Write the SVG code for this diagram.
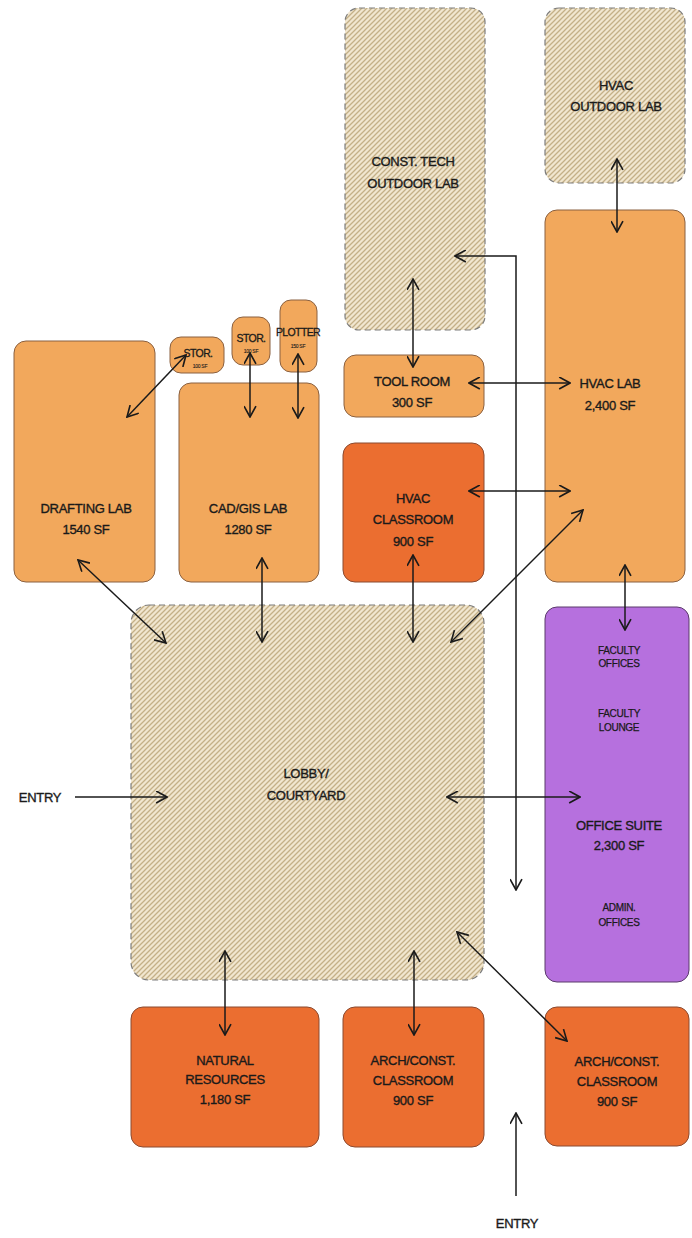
<svg xmlns="http://www.w3.org/2000/svg" width="692" height="1238" viewBox="0 0 692 1238">
<defs>
<pattern id="hatch" patternUnits="userSpaceOnUse" width="5" height="5">
<rect width="5" height="5" fill="#F1E6CF"/>
<path d="M-1,1 L1,-1 M0,5 L5,0 M4,6 L6,4" stroke="#C4B087" stroke-width="1.3"/>
</pattern>
<marker id="ah" viewBox="0 0 12 12" refX="11" refY="6" markerWidth="13" markerHeight="13" markerUnits="userSpaceOnUse" orient="auto-start-reverse">
<path d="M1,0.5 L11,6 L1,11.5" fill="none" stroke="#1a1a1a" stroke-width="1.5"/>
</marker>
<style>
.lt{fill:#F2A85C;stroke:#8a6040;stroke-width:1}
.dk{fill:#EB6E30;stroke:#8a4a30;stroke-width:1}
.pu{fill:#B670DE;stroke:#5a3a6a;stroke-width:1}
.ht{fill:url(#hatch);stroke:#7c7c7c;stroke-width:1.2;stroke-dasharray:6 4}
text{font-family:"Liberation Sans",Arial,sans-serif;font-size:13px;fill:#1a1a1a;stroke:#1a1a1a;stroke-width:0.35;text-anchor:middle;letter-spacing:-0.3px}
.s{font-size:10px;stroke-width:0.25}
.st{font-size:10.5px;stroke-width:0.3;letter-spacing:-0.6px}
.xs{font-size:5px;stroke-width:0.1}
.c{fill:none;stroke:#1a1a1a;stroke-width:1.5}
</style>
</defs>
<rect width="692" height="1238" fill="#ffffff"/>

<g id="const-tech-outdoor"><rect class="ht" x="345" y="8" width="140" height="322" rx="14"/><text x="413" y="166">CONST. TECH</text><text x="413" y="188">OUTDOOR LAB</text></g>
<g id="hvac-outdoor"><rect class="ht" x="545" y="8" width="140" height="175" rx="14"/><text x="616" y="90">HVAC</text><text x="616" y="111">OUTDOOR LAB</text></g>
<g id="hvac-lab"><rect class="lt" x="545" y="210" width="140" height="372" rx="12"/><text x="610" y="388">HVAC LAB</text><text x="610" y="410">2,400 SF</text></g>
<g id="drafting-lab"><rect class="lt" x="14" y="341" width="141" height="241" rx="12"/><text x="86" y="513">DRAFTING LAB</text><text x="86" y="534">1540 SF</text></g>
<g id="stor1"><rect class="lt" x="170" y="337" width="54" height="36" rx="11"/><text x="198" y="357" class="st">STOR.</text><text x="200" y="368" class="xs">100 SF</text></g>
<g id="stor2"><rect class="lt" x="232" y="317" width="38" height="48" rx="11"/><text x="251" y="342" class="st">STOR.</text><text x="251" y="353" class="xs">100 SF</text></g>
<g id="plotter"><rect class="lt" x="280" y="300" width="37" height="72" rx="11"/><text x="298" y="336" class="st">PLOTTER</text><text x="298" y="348" class="xs">150 SF</text></g>
<g id="cad-gis-lab"><rect class="lt" x="179" y="383" width="140" height="199" rx="12"/><text x="248" y="513">CAD/GIS LAB</text><text x="248" y="534">1280 SF</text></g>
<g id="tool-room"><rect class="lt" x="344" y="355" width="140" height="62" rx="12"/><text x="412" y="386">TOOL ROOM</text><text x="412" y="407">300 SF</text></g>
<g id="hvac-classroom"><rect class="dk" x="343" y="443" width="141" height="139" rx="12"/><text x="413" y="503">HVAC</text><text x="413" y="524">CLASSROOM</text><text x="413" y="546">900 SF</text></g>
<g id="lobby"><rect class="ht" x="131" y="605" width="353" height="375" rx="18"/><text x="306" y="778">LOBBY/</text><text x="306" y="800">COURTYARD</text></g>
<g id="office-suite"><rect class="pu" x="545" y="607" width="144" height="375" rx="12"/>
<text x="619" y="654" class="s">FACULTY</text><text x="619" y="667" class="s">OFFICES</text>
<text x="619" y="717" class="s">FACULTY</text><text x="619" y="731" class="s">LOUNGE</text>
<text x="619" y="830">OFFICE SUITE</text><text x="619" y="850">2,300 SF</text>
<text x="619" y="911" class="s">ADMIN.</text><text x="619" y="926" class="s">OFFICES</text></g>
<g id="natural-resources"><rect class="dk" x="131" y="1007" width="188" height="140" rx="12"/><text x="225" y="1065">NATURAL</text><text x="225" y="1084">RESOURCES</text><text x="225" y="1104">1,180 SF</text></g>
<g id="arch-classroom-1"><rect class="dk" x="343" y="1007" width="141" height="140" rx="12"/><text x="413" y="1065">ARCH/CONST.</text><text x="413" y="1085">CLASSROOM</text><text x="413" y="1105">900 SF</text></g>
<g id="arch-classroom-2"><rect class="dk" x="545" y="1007" width="144" height="139" rx="12"/><text x="617" y="1066">ARCH/CONST.</text><text x="617" y="1086">CLASSROOM</text><text x="617" y="1106">900 SF</text></g>
<g id="entry-left"><text x="40" y="802">ENTRY</text></g>
<g id="entry-bottom"><text x="517" y="1228">ENTRY</text></g>

<g id="connectors">
<line class="c" x1="127" y1="417" x2="186" y2="355" marker-start="url(#ah)" marker-end="url(#ah)"/>
<line class="c" x1="78" y1="560" x2="166" y2="643" marker-start="url(#ah)" marker-end="url(#ah)"/>
<line class="c" x1="250" y1="353" x2="250" y2="417" marker-start="url(#ah)" marker-end="url(#ah)"/>
<line class="c" x1="298" y1="354" x2="298" y2="418" marker-start="url(#ah)" marker-end="url(#ah)"/>
<line class="c" x1="262" y1="558" x2="262" y2="642" marker-start="url(#ah)" marker-end="url(#ah)"/>
<line class="c" x1="413" y1="279" x2="413" y2="367" marker-start="url(#ah)" marker-end="url(#ah)"/>
<line class="c" x1="469" y1="383" x2="570" y2="383" marker-start="url(#ah)" marker-end="url(#ah)"/>
<polyline class="c" points="455,256 516,256 516,890" marker-start="url(#ah)" marker-end="url(#ah)"/>
<line class="c" x1="469" y1="491" x2="570" y2="491" marker-start="url(#ah)" marker-end="url(#ah)"/>
<line class="c" x1="413" y1="555" x2="413" y2="642" marker-start="url(#ah)" marker-end="url(#ah)"/>
<line class="c" x1="583" y1="510" x2="451" y2="642" marker-start="url(#ah)" marker-end="url(#ah)"/>
<line class="c" x1="617" y1="159" x2="617" y2="232" marker-start="url(#ah)" marker-end="url(#ah)"/>
<line class="c" x1="625" y1="565" x2="625" y2="630" marker-start="url(#ah)" marker-end="url(#ah)"/>
<line class="c" x1="75" y1="797" x2="167" y2="797" marker-end="url(#ah)"/>
<line class="c" x1="447" y1="797" x2="580" y2="797" marker-start="url(#ah)" marker-end="url(#ah)"/>
<line class="c" x1="225" y1="951" x2="225" y2="1035" marker-start="url(#ah)" marker-end="url(#ah)"/>
<line class="c" x1="414" y1="951" x2="414" y2="1035" marker-start="url(#ah)" marker-end="url(#ah)"/>
<line class="c" x1="457" y1="932" x2="567" y2="1041" marker-start="url(#ah)" marker-end="url(#ah)"/>
<line class="c" x1="516" y1="1196" x2="516" y2="1113" marker-end="url(#ah)"/>
</g>
</svg>
